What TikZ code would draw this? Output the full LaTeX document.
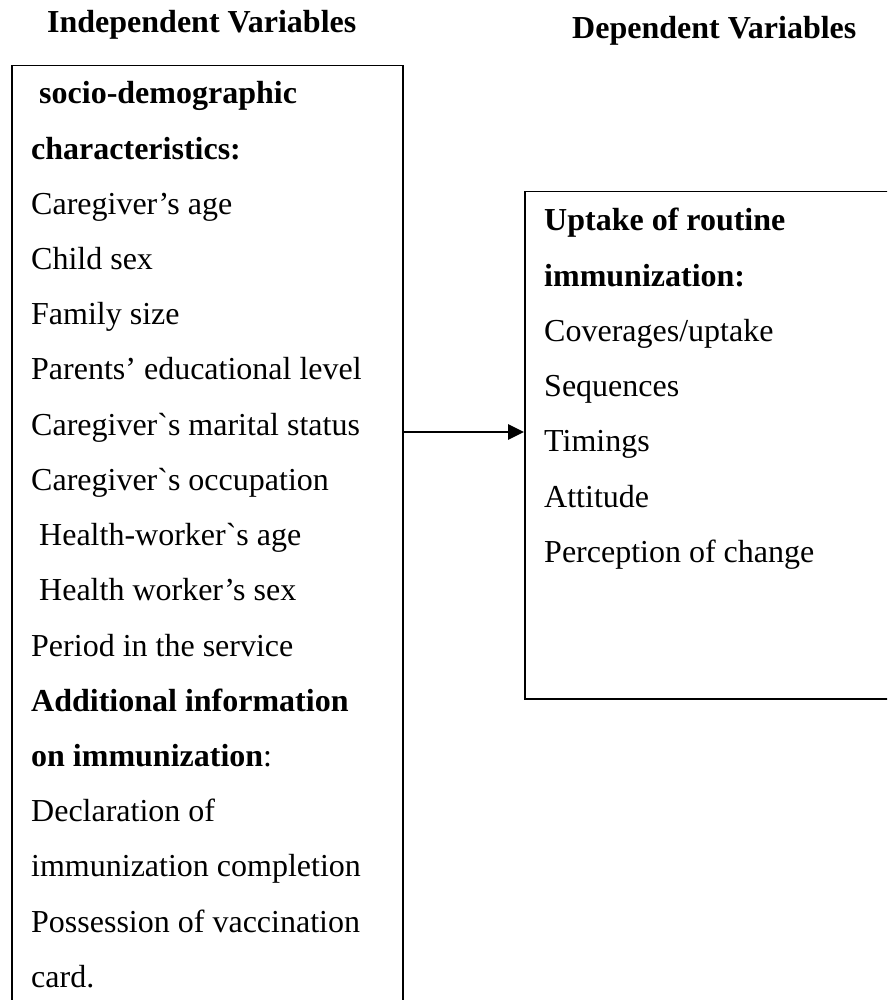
\documentclass[tikz,border=0pt]{standalone}
\usepackage{fontspec}
\setmainfont{Liberation Serif}[Ligatures=TeXOff]
\usetikzlibrary{arrows.meta}
\tikzset{
  framebox/.style={draw=black, line width=1.5pt, inner sep=0pt, anchor=north west},
  heading/.style={anchor=base west, inner sep=0pt, font=\fontsize{32}{38}\selectfont\bfseries},
  bodytext/.style={anchor=base west, inner sep=0pt},
  link/.style={line width=2.8pt, -{Triangle[length=16pt,width=15pt]}}
}
\newcommand{\boxlines}[2]{\parbox[t]{#1}{\fontsize{32}{55.2}\selectfont #2}}
\begin{document}
\begin{tikzpicture}[x=1pt,y=-1pt]
\clip (0,0) rectangle (887,1000);
\fill[white] (0,0) rectangle (887,1000);
% headings
\node[heading] (hind) at (47,33) {Independent Variables};
\node[heading] (hdep) at (572,39) {Dependent Variables};
% boxes
\node[framebox, minimum width=391pt, minimum height=960pt] (lbox) at (11,65) {};
\node[framebox, minimum width=400pt, minimum height=507pt] (rbox) at (524,191) {};
% left text
\node[bodytext] (ltext) at (31,104) {\boxlines{380pt}{%
\hspace*{8pt}\textbf{socio-demographic}\\
\textbf{characteristics:}\\
Caregiver’s age\\
Child sex\\
Family size\\
Parents’ educational level\\
Caregiver`s marital status\\
Caregiver`s occupation\\
\hspace*{8pt}Health-worker`s age\\
\hspace*{8pt}Health worker’s sex\\
Period in the service\\
\textbf{Additional information}\\
\textbf{on immunization}:\\
Declaration of\\
immunization completion\\
Possession of vaccination\\
card.}};
% right text
\node[bodytext] (rtext) at (544,231) {\boxlines{340pt}{%
\textbf{Uptake of routine}\\
\textbf{immunization:}\\
Coverages/uptake\\
Sequences\\
Timings\\
Attitude\\
Perception of change}};
% connector
\coordinate (ay) at (0,432);
\draw[link] (lbox.east |- ay) -- (rbox.west |- ay);
\end{tikzpicture}
\end{document}
